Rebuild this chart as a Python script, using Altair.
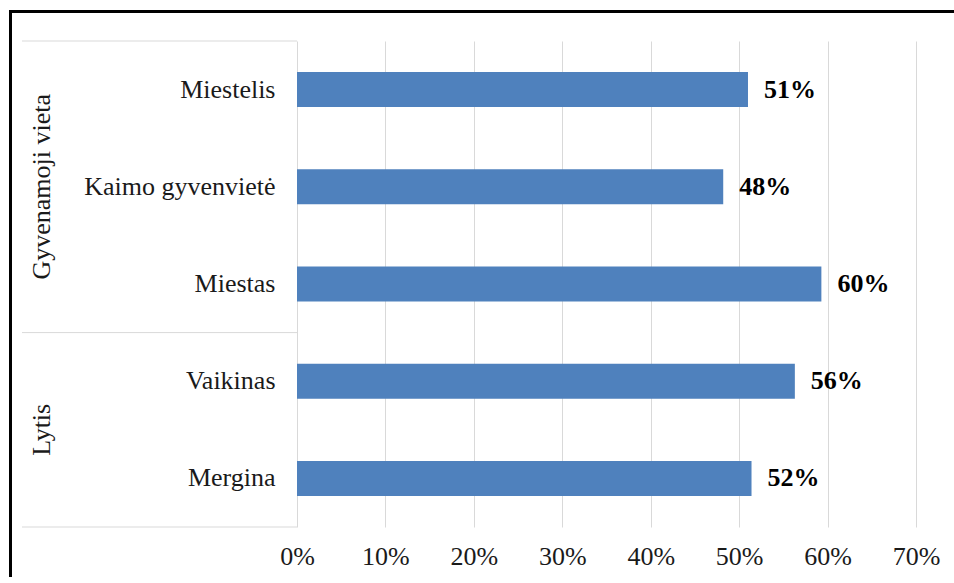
import altair as alt
import pandas as pd

categories = ["Miestelis", "Kaimo gyvenvietė", "Miestas", "Vaikinas", "Mergina"]
groups = ["Gyvenamoji vieta", "Gyvenamoji vieta", "Gyvenamoji vieta", "Lytis", "Lytis"]
values = [0.51, 0.482, 0.593, 0.563, 0.514]
value_labels = ["51%", "48%", "60%", "56%", "52%"]
x_ticks = [0.0, 0.1, 0.2, 0.3, 0.4, 0.5, 0.6, 0.7]

FONT = "Liberation Serif"
FS = 26
GRID = "#d9d9d9"
TEXT = "#1a1a1a"

df = pd.DataFrame({"cat": categories, "group": groups, "value": values, "label": value_labels})

yscale = alt.Scale(domain=categories, paddingInner=0, paddingOuter=0)
xscale = alt.Scale(domain=[0, 0.7], nice=False)

base = alt.Chart(df)

bars = base.mark_bar(size=35, color="#4F81BD").encode(
    x=alt.X("value:Q", scale=xscale,
            axis=alt.Axis(values=x_ticks, format=".0%", title=None, grid=True,
                          gridColor=GRID, gridWidth=1, domain=False, ticks=False,
                          labelFont=FONT, labelFontSize=FS, labelColor=TEXT,
                          labelPadding=16, labelFlush=False, labelOverlap=False)),
    y=alt.Y("cat:N", scale=yscale, sort=categories,
            axis=alt.Axis(title=None, ticks=False, domain=False, grid=False,
                          labelFont=FONT, labelFontSize=FS, labelColor=TEXT,
                          labelPadding=22, labelLimit=400)),
)

txt = base.mark_text(align="left", baseline="middle", dx=16, font=FONT,
                     fontSize=FS, fontWeight="bold", color="#000000").encode(
    x=alt.X("value:Q", scale=xscale),
    y=alt.Y("cat:N", scale=yscale, sort=categories),
    text="label:N",
)

# group frame lines (top of each group, and bottom)
top_df = pd.DataFrame({"cat": ["Miestelis", "Vaikinas"]})
bot_df = pd.DataFrame({"cat": ["Mergina"]})
frame_top = alt.Chart(top_df).mark_rule(color=GRID, strokeWidth=1).encode(
    y=alt.Y("cat:N", scale=yscale, sort=categories, bandPosition=0),
    x=alt.value(-275), x2=alt.value(0),
)
frame_bot = alt.Chart(bot_df).mark_rule(color=GRID, strokeWidth=1).encode(
    y=alt.Y("cat:N", scale=yscale, sort=categories, bandPosition=1),
    x=alt.value(-275), x2=alt.value(0),
)

g1 = alt.Chart(pd.DataFrame({"cat": ["Kaimo gyvenvietė"], "g": ["Gyvenamoji vieta"]})).mark_text(
    angle=270, align="center", baseline="middle", font=FONT, fontSize=FS, color=TEXT
).encode(y=alt.Y("cat:N", scale=yscale, sort=categories, bandPosition=0.5),
         x=alt.value(-255), text="g:N")
g2 = alt.Chart(pd.DataFrame({"cat": ["Mergina"], "g": ["Lytis"]})).mark_text(
    angle=270, align="center", baseline="middle", font=FONT, fontSize=FS, color=TEXT
).encode(y=alt.Y("cat:N", scale=yscale, sort=categories, bandPosition=0),
         x=alt.value(-255), text="g:N")

one = pd.DataFrame({"a": [0]})
border_left = alt.Chart(one).mark_rule(color="#000000", strokeWidth=3).encode(
    x=alt.value(-286.5), y=alt.value(-31), y2=alt.value(536))
border_top = alt.Chart(one).mark_rule(color="#000000", strokeWidth=3).encode(
    x=alt.value(-288), x2=alt.value(657), y=alt.value(-29.5))

chart = alt.layer(frame_top, frame_bot, bars, txt, g1, g2, border_left, border_top).properties(
    width=619, height=486,
    autosize=alt.AutoSizeParams(type="none"),
    padding={"left": 297, "top": 41, "right": 38, "bottom": 50},
    background="white",
).configure_view(strokeWidth=0)

chart.save("out.html", embed_options={"renderer": "svg", "actions": False})
